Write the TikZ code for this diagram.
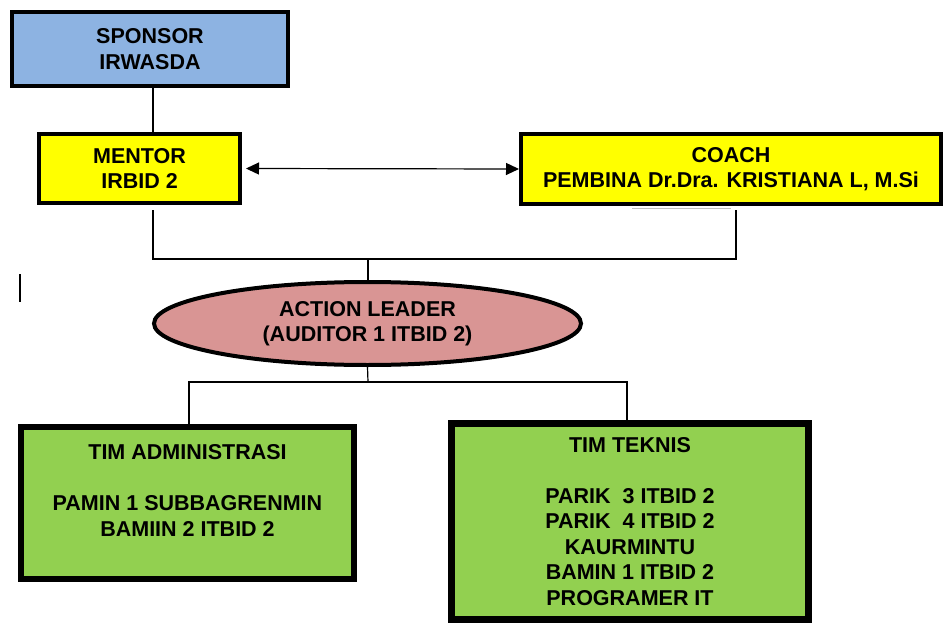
\documentclass[tikz,border=0pt]{standalone}
\usepackage{fontspec}
\setmainfont{Liberation Sans}
\usetikzlibrary{shapes.geometric,arrows.meta}
\definecolor{sponsorblue}{HTML}{8DB3E2}
\definecolor{leaderpink}{HTML}{D99594}
\definecolor{teamgreen}{HTML}{92D050}
\definecolor{boxyellow}{HTML}{FFFF00}
\begin{document}
\begin{tikzpicture}[x=1pt,y=-1pt,
  every node/.style={font=\fontsize{21.5}{25.5}\selectfont\bfseries, align=center, inner sep=0pt},
  box/.style={draw, rectangle},
  conn/.style={line width=1.2pt},
  tip/.style={arrows={Triangle[length=13pt,width=12pt]-Triangle[length=13pt,width=12pt]}}]
\useasboundingbox[fill=white] (0,0) rectangle (943,642);

\node[box, line width=4pt, fill=sponsorblue, minimum width=276pt, minimum height=74pt] (sponsor) at (150,49) {SPONSOR\\IRWASDA};
\node[box, line width=4pt, fill=boxyellow, minimum width=201pt, minimum height=69pt] (mentor) at (139.5,168.5) {MENTOR\\IRBID 2};
\node[box, line width=4pt, fill=boxyellow, minimum width=420pt, minimum height=70pt] (coach) at (731,169) {COACH\\PEMBINA Dr.Dra. KRISTIANA L, M.Si};
\node[ellipse, draw, line width=4pt, fill=leaderpink, minimum width=427pt, minimum height=83pt] (leader) at (367.5,323.5) {ACTION LEADER\\(AUDITOR 1 ITBID 2)};
\node[box, line width=6pt, fill=teamgreen, minimum width=333pt, minimum height=152pt] (admin) at (187.5,503) {TIM ADMINISTRASI\\\mbox{}\\PAMIN 1 SUBBAGRENMIN\\BAMIIN 2 ITBID 2\\\mbox{}};
\node[box, line width=7pt, fill=teamgreen, minimum width=357pt, minimum height=196pt] (teknis) at (630,521.5) {TIM TEKNIS\\\mbox{}\\PARIK\ \ 3 ITBID 2\\PARIK\ \ 4 ITBID 2\\KAURMINTU\\BAMIN 1 ITBID 2\\PROGRAMER IT};

\coordinate (jm) at (153,259);
\coordinate (jc) at (736,259);
\coordinate (jmid) at (368,259);
\coordinate (jl) at (189,382);
\coordinate (jr) at (627,382);
\coordinate (jb) at (368,382);
\coordinate (s1) at (20,274);
\coordinate (s2) at (20,302);
\coordinate (g1) at (632,208);
\coordinate (g2) at (731,208);

\draw[conn] (sponsor.south -| jm) -- (mentor.north -| jm);
\draw[conn, tip] ([xshift=4pt]mentor.east) -- (coach.west);
\draw[conn] ([yshift=-5pt]mentor.south -| jm) -- (jm) -- (jc) -- ([yshift=-4pt]coach.south -| jc);
\draw[conn] (jmid) -- (leader.north -| jmid);
\draw[conn] (leader.south) -- (jb);
\draw[conn] (admin.north -| jl) -- (jl) -- (jr) -- (teknis.north -| jr);
\draw[conn] (s1) -- (s2);
\draw[gray!50, line width=1pt] (g1) -- (g2);
\end{tikzpicture}
\end{document}
